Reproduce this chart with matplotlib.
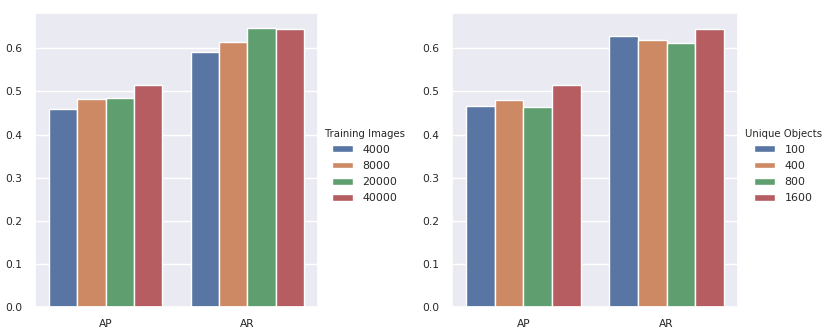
import matplotlib
matplotlib.use("Agg")
import matplotlib.pyplot as plt
import seaborn as sns
import pandas as pd

metrics = ["AP", "AR"]

train_labels = ["4000", "8000", "20000", "40000"]
train_ap = [0.459, 0.483, 0.485, 0.515]
train_ar = [0.592, 0.614, 0.648, 0.646]

obj_labels = ["100", "400", "800", "1600"]
obj_ap = [0.466, 0.481, 0.465, 0.514]
obj_ar = [0.629, 0.619, 0.613, 0.646]

sns.set_theme(style="darkgrid")
plt.rcParams["font.family"] = ["DejaVu Sans"]

FS = 7.7


def make_df(labels, ap, ar, hue_name):
    rows = []
    for lab, a in zip(labels, ap):
        rows.append({"metric": "AP", hue_name: lab, "value": a})
    for lab, a in zip(labels, ar):
        rows.append({"metric": "AR", hue_name: lab, "value": a})
    return pd.DataFrame(rows)


fig = plt.figure(figsize=(8.31, 3.35), dpi=100)
ax1 = fig.add_axes([0.0421, 0.0836, 0.3406, 0.8776])
ax2 = fig.add_axes([0.5439, 0.0836, 0.3442, 0.8776])

for ax, labels, ap, ar, name in [
    (ax1, train_labels, train_ap, train_ar, "Training Images"),
    (ax2, obj_labels, obj_ap, obj_ar, "Unique Objects"),
]:
    df = make_df(labels, ap, ar, name)
    sns.barplot(data=df, x="metric", y="value", hue=name, order=metrics,
                hue_order=labels, ax=ax, saturation=0.75,
                edgecolor="white", linewidth=1, errorbar=None)
    ax.set_xlabel("")
    ax.set_ylabel("")
    ax.set_yticks([0.0, 0.1, 0.2, 0.3, 0.4, 0.5, 0.6])
    ax.set_yticklabels(["0.0", "0.1", "0.2", "0.3", "0.4", "0.5", "0.6"])
    ax.set_ylim(0, 0.682)
    ax.tick_params(labelsize=FS, pad=3)
    leg = ax.legend(title=name, loc="center left", bbox_to_anchor=(1.0, 0.48),
                    fontsize=7.9, title_fontsize=7.3, frameon=False,
                    borderaxespad=0.2,
                    handlelength=1.9, handleheight=0.6, handletextpad=0.9,
                    labelspacing=0.55)

fig.savefig("out.png", dpi=100)
